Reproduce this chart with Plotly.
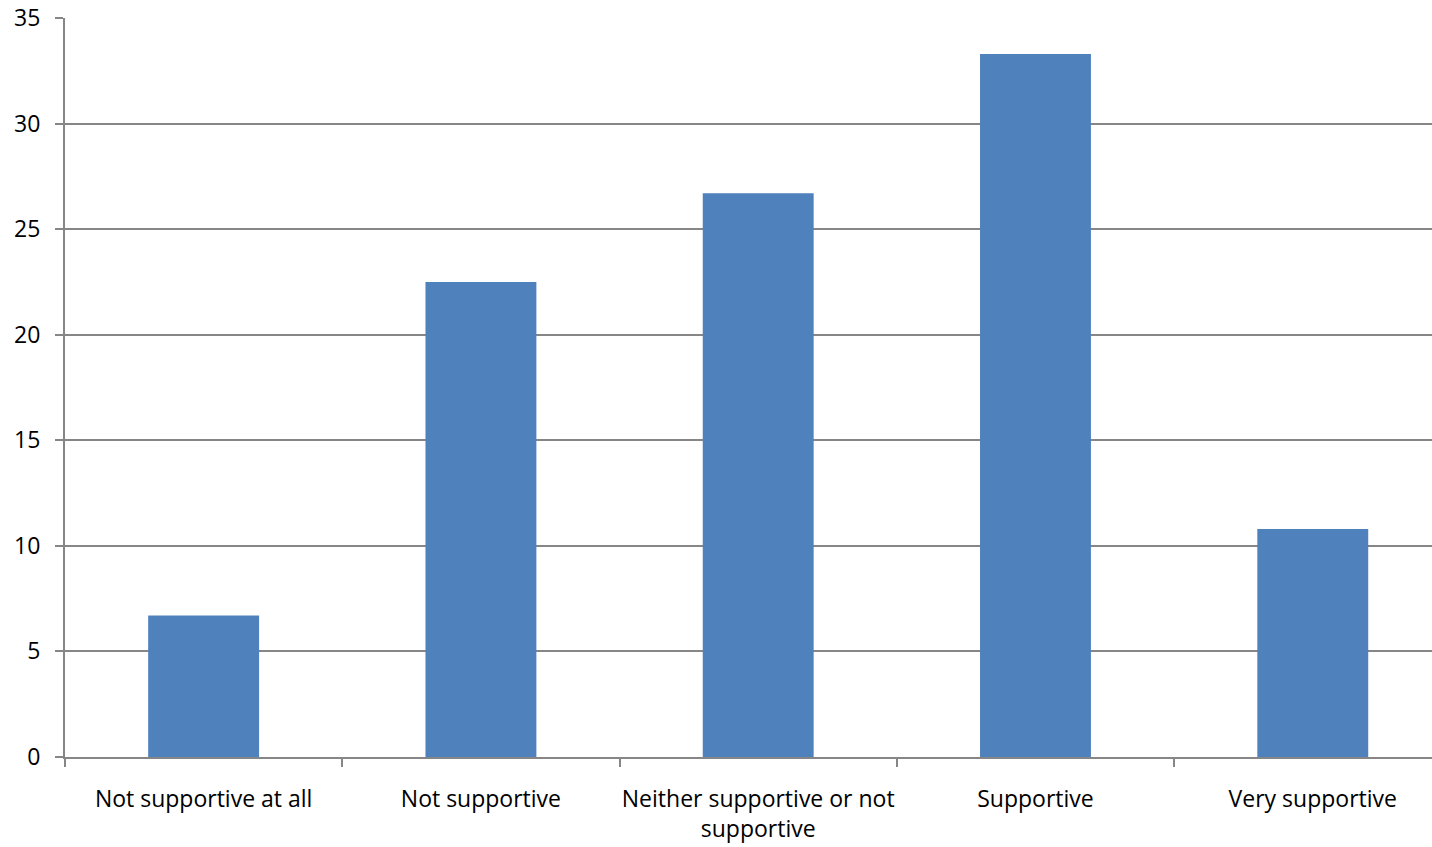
import plotly.graph_objects as go

categories = ["Not supportive at all", "Not supportive", "Neither supportive or not<br>supportive", "Supportive", "Very supportive"]
values = [6.7, 22.5, 26.7, 33.3, 10.8]
y_ticks = [0, 5, 10, 15, 20, 25, 30, 35]

FONT = "Open Sans"
GRID = "#868686"

fig = go.Figure(go.Bar(x=categories, y=values, marker=dict(color="#4F81BD", line=dict(width=0)), width=0.40))

fig.update_layout(
    width=1432, height=847,
    margin=dict(l=65, r=0, t=18, b=90, autoexpand=False),
    paper_bgcolor="white", plot_bgcolor="white",
    font=dict(family=FONT, size=23, color="black"),
    showlegend=False,
)
fig.update_xaxes(
    range=[-0.5, 4.43],
    showline=True, linecolor=GRID, linewidth=2,
    ticks="outside", tickson="boundaries", ticklen=8, tickcolor=GRID, tickwidth=2,
    showgrid=False, ticklabelstandoff=20, tickangle=0, automargin=False,
)
fig.update_yaxes(
    range=[0, 35], tickvals=y_ticks, showgrid=True, gridcolor=GRID, gridwidth=2,
    showline=True, linecolor=GRID, linewidth=2,
    ticks="outside", ticklen=8, tickcolor=GRID, tickwidth=2,
    zeroline=False, ticklabelstandoff=10, automargin=False, ticklabeloverflow="allow",
)
fig.write_html(
    "out.html",
    config={"displayModeBar": False},
    post_script="document.body.style.margin='0';document.body.style.overflow='hidden';",
)
